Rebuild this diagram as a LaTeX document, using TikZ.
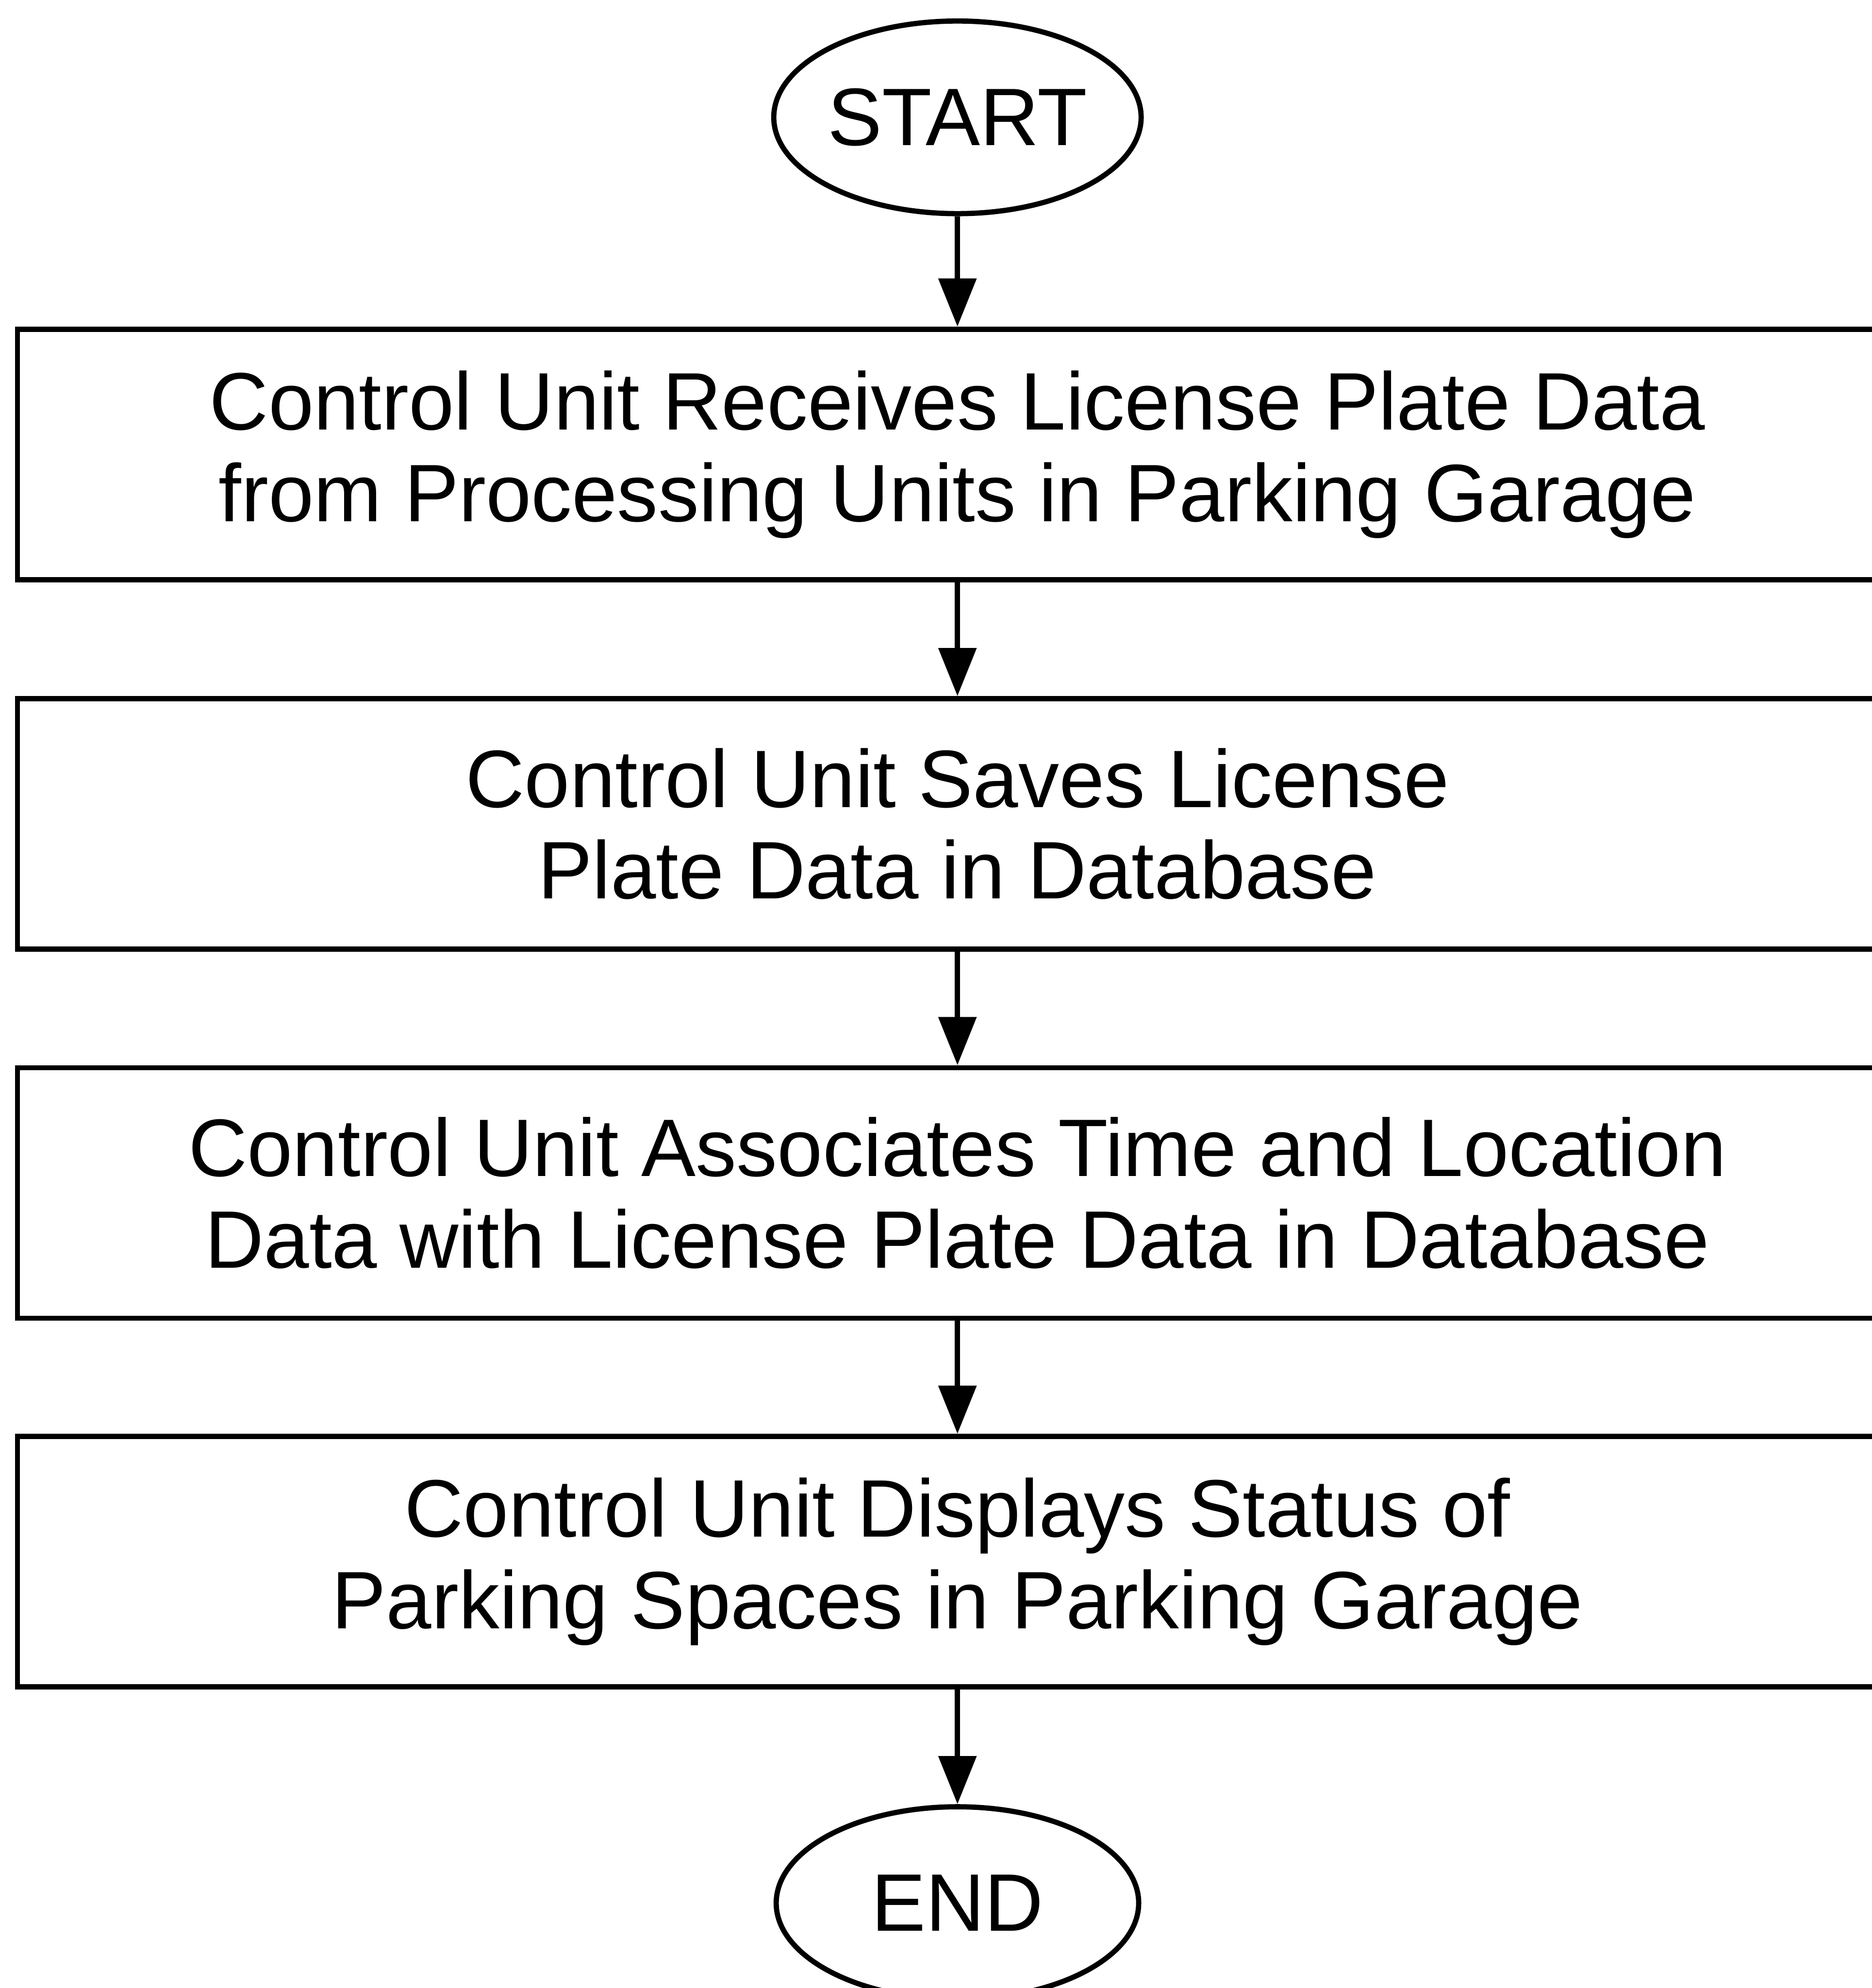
\documentclass[tikz,border=0pt]{standalone}
\usepackage{fontspec}
\setmainfont{Liberation Sans}
\usetikzlibrary{shapes.geometric, arrows.meta}

\begin{document}
\begin{tikzpicture}[
    stepbox/.style={draw, line width=3.4pt, rectangle, minimum width=42.94cm, minimum height=5.72cm, align=center, inner sep=0pt, font=\fontsize{53pt}{59.5pt}\selectfont},
    terminal/.style={draw, line width=3.4pt, ellipse, minimum width=8.28cm, minimum height=4.4cm, inner sep=0pt, font=\fontsize{53pt}{59.5pt}\selectfont},
    flow/.style={-{Triangle[length=1.1cm, width=0.85cm]}, line width=3.4pt}
  ]
  \useasboundingbox (0,0) rectangle (42.76,-45.41);
  % START marker
  \node[terminal] (start) at (21.87,-2.68) {START};
  % steps
  \node[stepbox] (receive) at (21.87,-10.38) {Control Unit Receives License Plate Data\\from Processing Units in Parking Garage};
  \node[stepbox] (save) at (21.87,-18.82) {Control Unit Saves License\\Plate Data in Database};
  \node[stepbox] (associate) at (21.87,-27.25) {Control Unit Associates Time and Location\\Data with License Plate Data in Database};
  \node[stepbox] (display) at (21.87,-35.67) {Control Unit Displays Status of\\Parking Spaces in Parking Garage};
  % END marker
  \node[terminal] (end) at (21.87,-43.47) {END};
  % arrows
  \draw[flow] (start) -- (receive);
  \draw[flow] (receive) -- (save);
  \draw[flow] (save) -- (associate);
  \draw[flow] (associate) -- (display);
  \draw[flow] (display) -- (end);
\end{tikzpicture}
\end{document}
